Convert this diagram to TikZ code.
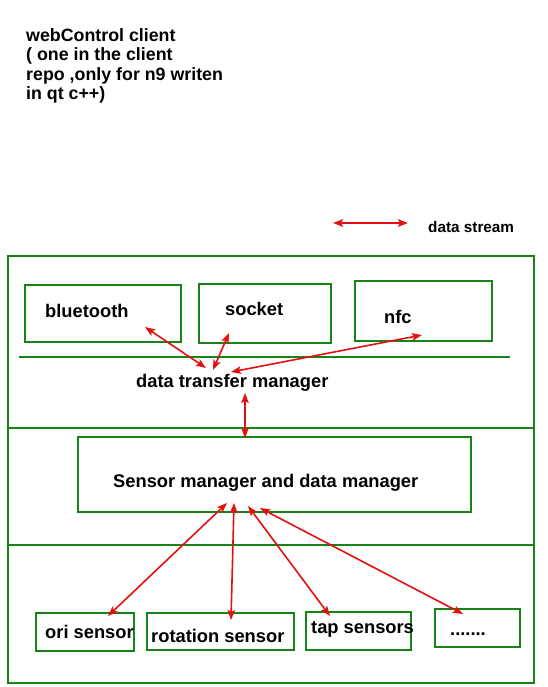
\documentclass[tikz,border=0pt]{standalone}
\usepackage{fontspec}
\setmainfont{Liberation Sans}
\usetikzlibrary{arrows.meta}
\definecolor{boxgreen}{RGB}{24,132,24}
\definecolor{arrred}{RGB}{228,16,16}
\begin{document}
\begin{tikzpicture}[x=1pt,y=-1pt,
  box/.style={draw=boxgreen,line width=2pt,inner sep=0pt,rectangle},
  sep/.style={draw=boxgreen,line width=2pt},
  lbl/.style={inner sep=0pt,font=\fontsize{18.3}{19.5}\selectfont\bfseries,anchor=base west},
  flow/.style={draw=arrred,line width=1.6pt,{Stealth[length=10pt,width=7.5pt,inset=2pt]}-{Stealth[length=10pt,width=7.5pt,inset=2pt]}}]
\useasboundingbox (0,0) rectangle (547,687);
% title
\node[inner sep=0pt,anchor=north west,align=left,font=\fontsize{17.8}{19.5}\selectfont\bfseries] (title) at (26,28)
  {webControl client\\( one in the client\\repo ,only for n9 writen\\in qt c++)};
% legend
\coordinate (legA) at (333,223);
\coordinate (legB) at (408,223);
\draw[flow,line width=2pt] (legA) -- (legB);
\node[lbl,font=\fontsize{15.3}{17}\selectfont\bfseries] (legtxt) at (428,232) {data stream};
% outer frame
\node[box,minimum width=526pt,minimum height=427pt] (outer) at (271,469.5) {};
\draw[sep] (19,357) -- (510,357);
\draw[sep] (8,428) -- (534,428);
\draw[sep] (8,545) -- (534,545);
% top boxes
\node[box,minimum width=156pt,minimum height=57pt] (btbox) at (103,313.5) {};
\node[box,minimum width=132pt,minimum height=59pt] (sockbox) at (265,313.5) {};
\node[box,minimum width=137pt,minimum height=60pt] (nfcbox) at (423.5,311) {};
\node[lbl] (bt) at (45,317) {bluetooth};
\node[lbl] (sock) at (225,315) {socket};
\node[lbl] (nfc) at (384,323) {nfc};
\node[lbl] (dtm) at (136,387) {data transfer manager};
% sensor manager
\node[box,minimum width=393pt,minimum height=75pt] (smbox) at (274.5,474.5) {};
\node[lbl] (sm) at (113,487) {Sensor manager and data manager};
% sensors
\node[box,minimum width=98pt,minimum height=38pt] (oribox) at (85,632) {};
\node[box,minimum width=147pt,minimum height=37pt] (rotbox) at (220.5,631.5) {};
\node[box,minimum width=105pt,minimum height=38pt] (tapbox) at (358.5,631) {};
\node[box,minimum width=85pt,minimum height=38pt] (dotbox) at (477.5,628) {};
\node[lbl] (ori) at (45,638) {ori sensor};
\node[lbl] (rot) at (151,642) {rotation sensor};
\node[lbl] (tap) at (311,633) {tap sensors};
\node[lbl] (dots) at (450,635) {.......};
% arrow end points
\coordinate (btP) at (145,327);
\coordinate (dtmA) at (206,368);
\coordinate (sockP) at (229,333);
\coordinate (dtmB) at (213,370);
\coordinate (nfcP) at (422,335);
\coordinate (dtmC) at (231,372);
\coordinate (dtmD) at (245,393);
\coordinate (smTop) at (245,438);
\coordinate (smA) at (227,503);
\coordinate (oriP) at (108,616);
\coordinate (smB) at (234,503);
\coordinate (rotP) at (231,620);
\coordinate (smC) at (248,506);
\coordinate (tapP) at (330,616);
\coordinate (smD) at (260,508);
\coordinate (dotP) at (463,614);
\draw[flow] (btP) -- (dtmA);
\draw[flow] (sockP) -- (dtmB);
\draw[flow] (nfcP) -- (dtmC);
\draw[flow] (dtmD) -- (smTop);
\draw[flow] (smA) -- (oriP);
\draw[flow] (smB) -- (rotP);
\draw[flow] (smC) -- (tapP);
\draw[flow] (smD) -- (dotP);
\end{tikzpicture}
\end{document}
